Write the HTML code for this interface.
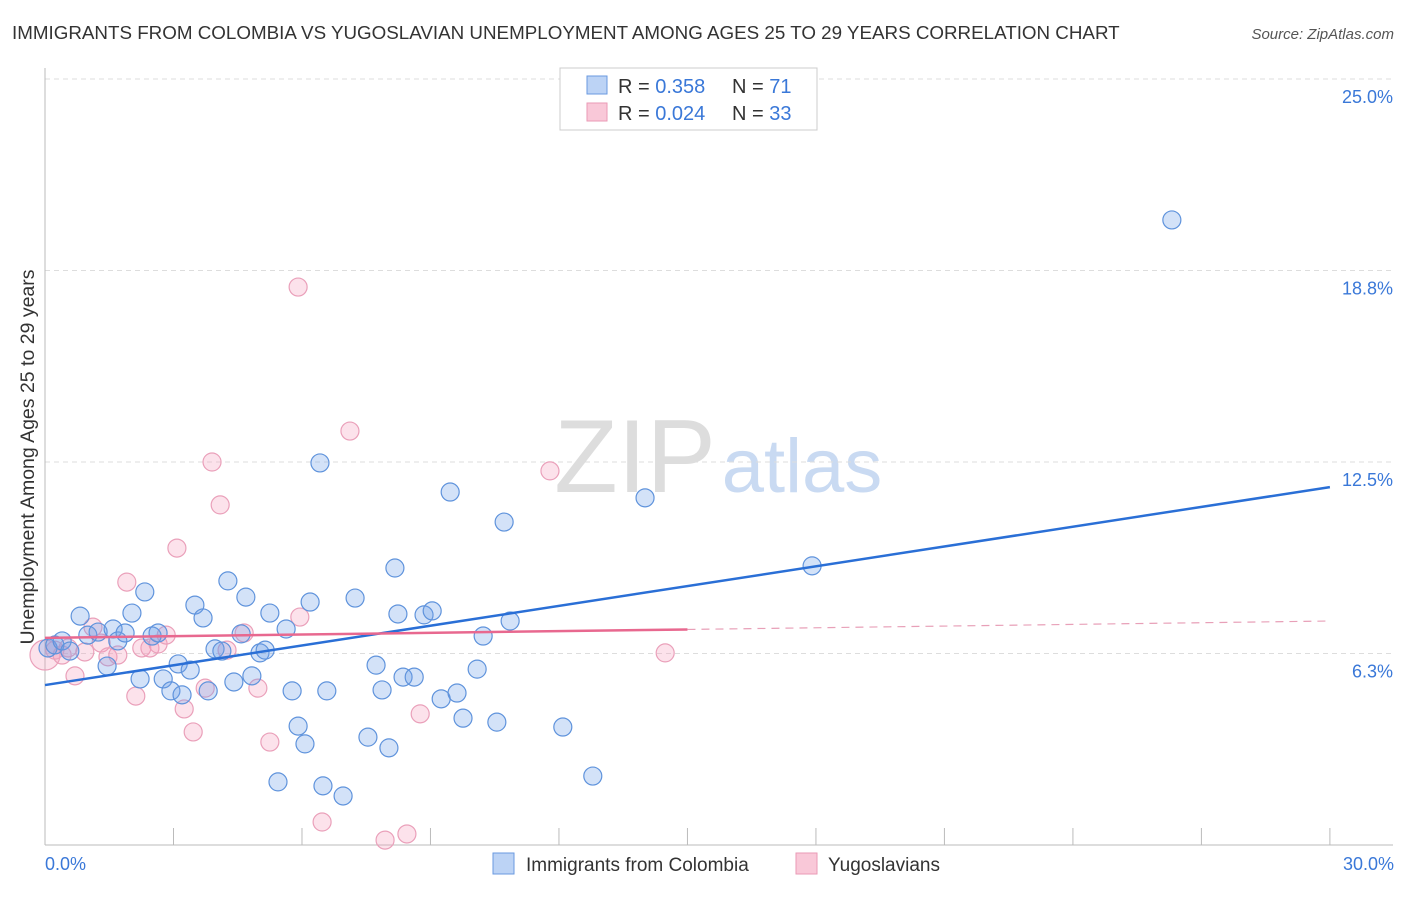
<!DOCTYPE html>
<html><head><meta charset="utf-8"><style>
body{margin:0;background:#fff;font-family:"Liberation Sans",sans-serif}
svg text{font-family:"Liberation Sans",sans-serif}
</style></head><body>
<svg id="chart" width="1406" height="892">
<text x="12" y="39" font-size="18.8" fill="#333">IMMIGRANTS FROM COLOMBIA VS YUGOSLAVIAN UNEMPLOYMENT AMONG AGES 25 TO 29 YEARS CORRELATION CHART</text>
<text x="1394" y="39" font-size="15" fill="#555" text-anchor="end" font-style="italic">Source: ZipAtlas.com</text>
<text x="635" y="492" font-size="104" fill="#ddd" font-family="Liberation Serif" text-anchor="middle">ZIP</text>
<text x="802" y="492" font-size="76" fill="#c9daf2" text-anchor="middle">atlas</text>
<g id="grid"></g>
<g id="marks"></g>
<text transform="translate(34,457) rotate(-90)" font-size="19.5" fill="#333" text-anchor="middle">Unemployment Among Ages 25 to 29 years</text>
<text x="45" y="870" font-size="18" fill="#3a78d8">0.0%</text>
<text x="1394" y="870" font-size="18" fill="#3a78d8" text-anchor="end">30.0%</text>
<g>
<rect x="560" y="68" width="257" height="62" fill="#fff" stroke="#ccc"/>
<rect x="587" y="76" width="20" height="18" fill="#bcd3f5" stroke="#6a9ae0"/>
<rect x="587" y="103" width="20" height="18" fill="#f9c8d8" stroke="#ea9ab6"/>
<text x="618" y="93" font-size="20" fill="#333">R = <tspan fill="#3a78d8">0.358</tspan><tspan x="732">N = </tspan><tspan fill="#3a78d8">71</tspan></text>
<text x="618" y="120" font-size="20" fill="#333">R = <tspan fill="#3a78d8">0.024</tspan><tspan x="732">N = </tspan><tspan fill="#3a78d8">33</tspan></text>
</g>
<g>
<rect x="493" y="853" width="21" height="21" fill="#bcd3f5" stroke="#6a9ae0"/>
<text x="526" y="871" font-size="19" fill="#333">Immigrants from Colombia</text>
<rect x="796" y="853" width="21" height="21" fill="#f9c8d8" stroke="#ea9ab6"/>
<text x="828" y="871" font-size="19" fill="#333">Yugoslavians</text>
</g>
</svg>
<script>
const yTicks=[6.25,12.5,18.75,25];
const yTickLabels=["6.3%","12.5%","18.8%","25.0%"];
const xTicks=[0,3,6,9,12,15,18,21,24,27,30];
const blueX=[0.07,0.23,0.40,0.58,0.82,1.00,1.24,1.45,1.59,1.70,1.87,2.03,2.22,2.33,2.50,2.64,2.76,2.94,3.11,3.20,3.39,3.50,3.69,3.81,3.97,4.13,4.27,4.41,4.58,4.69,4.83,5.02,5.14,5.25,5.44,5.63,5.77,5.91,6.07,6.19,6.42,6.49,6.58,6.96,7.24,7.54,7.73,7.87,8.03,8.17,8.24,8.36,8.62,8.85,9.04,9.25,9.46,9.62,9.76,10.09,10.23,10.55,10.72,10.86,12.09,12.79,14.01,17.91,26.31];
const blueY=[6.43,6.53,6.66,6.33,7.47,6.85,6.95,5.84,7.05,6.66,6.92,7.57,5.42,8.26,6.82,6.92,5.42,5.03,5.91,4.90,5.71,7.83,7.41,5.03,6.40,6.33,8.62,5.32,6.89,8.09,5.52,6.27,6.36,7.57,2.06,7.05,5.03,3.88,3.30,7.93,12.47,1.93,5.03,1.60,8.06,3.52,5.87,5.06,3.17,9.04,7.54,5.48,5.48,7.51,7.64,4.77,11.52,4.96,4.14,5.74,6.82,4.01,10.54,7.31,3.85,2.25,11.33,9.11,20.40];
const pinkX=[0,0.23,0.40,0.54,0.70,0.93,1.12,1.31,1.47,1.70,1.91,2.12,2.26,2.45,2.64,2.83,3.08,3.25,3.46,3.74,3.90,4.09,4.25,4.65,4.97,5.25,5.91,5.95,6.47,7.12,7.94,8.45,8.76,11.79,14.48];
const pinkY=[6.20,6.36,6.20,6.43,5.52,6.30,7.11,6.59,6.14,6.20,8.58,4.86,6.43,6.43,6.56,6.85,9.69,4.44,3.69,5.12,12.50,11.10,6.36,6.92,5.12,3.36,18.21,7.44,0.75,13.51,0.16,0.36,4.28,12.21,6.27];
const blueTrend=[5.22,11.68];
const pinkTrend=[6.76,7.31];
const pinkSolidEnd=15;
const NS="http://www.w3.org/2000/svg";
const X=v=>45+v*42.83, Y=v=>845-v*30.64;
function mk(tag,attrs,parent){const e=document.createElementNS(NS,tag);for(const k in attrs)e.setAttribute(k,attrs[k]);parent.appendChild(e);return e;}
const grid=document.getElementById('grid'),marks=document.getElementById('marks');
yTicks.forEach((t,i)=>{
 const l=mk('line',{x1:45,x2:1393,y1:Y(t),y2:Y(t),stroke:'#ddd','stroke-dasharray':'5,4'},grid);
 
 
 const tx=mk('text',{x:1393,y:Y(t)+24,'font-size':18,fill:'#3a78d8','text-anchor':'end'},grid);
 tx.textContent=yTickLabels[i];
 
 
});
const ax=mk('line',{x1:45,x2:1393,y1:845,y2:845,stroke:'#bbb'},grid);


const ay=mk('line',{x1:45,x2:45,y1:68,y2:845,stroke:'#bbb'},grid);


xTicks.forEach(t=>{
 const l=mk('line',{x1:X(t),x2:X(t),y1:828,y2:845,stroke:'#bbb'},grid);
 
 
});
pinkX.forEach((v,i)=>{
 const c=mk('circle',{cx:X(v),cy:Y(pinkY[i]),r:i===0?15:9,fill:'rgba(244,160,190,0.3)',stroke:'#eaa0ba','stroke-width':1.2},marks);
 
 
});
blueX.forEach((v,i)=>{
 const c=mk('circle',{cx:X(v),cy:Y(blueY[i]),r:9,fill:'rgba(110,160,232,0.3)',stroke:'#5f93dc','stroke-width':1.2},marks);
 
 
});
const bt=mk('line',{x1:X(0),y1:Y(blueTrend[0]),x2:X(30),y2:Y(blueTrend[1]),stroke:'#2a6fd6','stroke-width':2.5},marks);


const pm=pinkTrend[0]+(pinkTrend[1]-pinkTrend[0])*pinkSolidEnd/30;
const pt=mk('line',{x1:X(0),y1:Y(pinkTrend[0]),x2:X(pinkSolidEnd),y2:Y(pm),stroke:'#e8688f','stroke-width':2.5},marks);


const pd=mk('line',{x1:X(pinkSolidEnd),y1:Y(pm),x2:X(30),y2:Y(pinkTrend[1]),stroke:'#e8a0b8','stroke-width':1.2,'stroke-dasharray':'8,6'},marks);


</script>
</body></html>
